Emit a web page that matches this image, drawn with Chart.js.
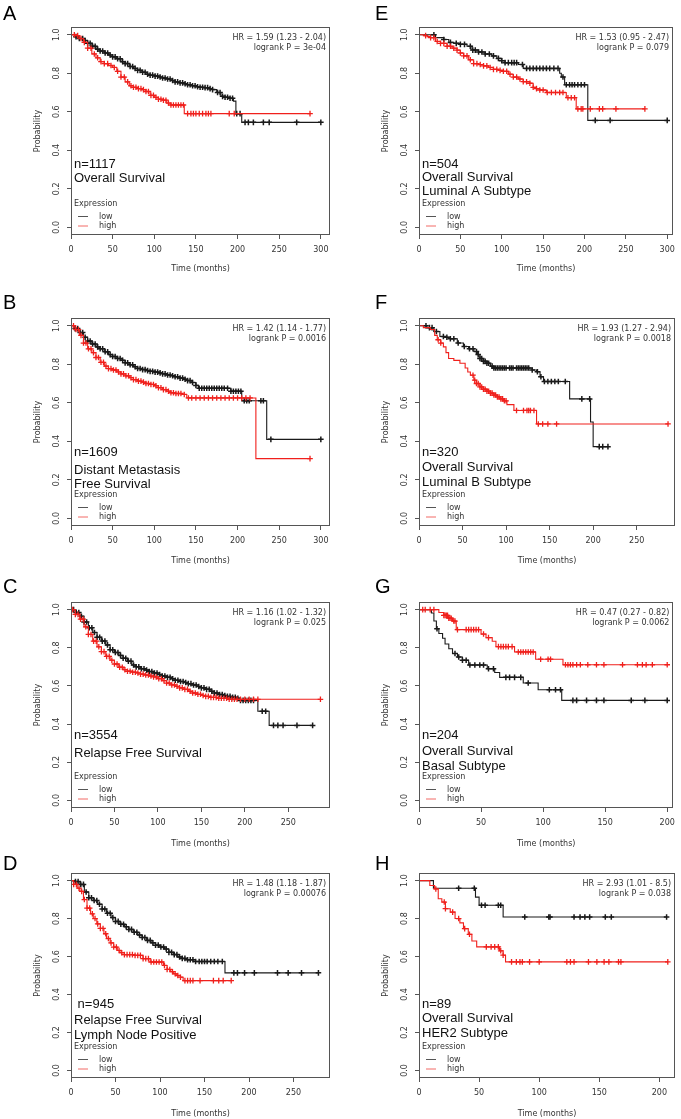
<!DOCTYPE html>
<html>
<head>
<meta charset="utf-8">
<script src="https://cdn.jsdelivr.net/npm/chart.js@4.4.0/dist/chart.umd.min.js"></script>
<style>
  body { margin: 0; background: #fff; }
  #fig { position: relative; width: 681px; height: 1119px; overflow: hidden; }
  #fig canvas { position: absolute; }
</style>
</head>
<body>
<div id="fig"></div>
<script>
// ---- axis ticks ----
const yTicks = [0, 0.2, 0.4, 0.6, 0.8, 1.0];
const yTickLabels = ['0.0', '0.2', '0.4', '0.6', '0.8', '1.0'];
const xTicks300 = [0, 50, 100, 150, 200, 250, 300];
const xTicks250 = [0, 50, 100, 150, 200, 250];
const xTicks200 = [0, 50, 100, 150, 200];

// ---- A: overall survival ----
const aLowT = [0, 5, 10, 15, 20, 25, 30, 35, 40, 45, 50, 55, 60, 65, 70, 75, 80, 85, 90, 95, 100, 105, 110, 115, 120, 125, 130, 135, 140, 145, 150, 155, 160, 165, 170, 175, 180, 185, 190, 195, 198, 205];
const aLowS = [1.0, 0.99, 0.98, 0.97, 0.955, 0.94, 0.925, 0.915, 0.905, 0.895, 0.885, 0.875, 0.86, 0.85, 0.835, 0.825, 0.815, 0.805, 0.795, 0.79, 0.785, 0.78, 0.775, 0.77, 0.762, 0.755, 0.75, 0.745, 0.74, 0.735, 0.73, 0.727, 0.725, 0.72, 0.715, 0.70, 0.68, 0.675, 0.67, 0.655, 0.59, 0.545];
const aLowC = [6, 10, 14, 17, 20, 23, 26, 29, 32, 35, 38, 41, 44, 47, 50, 53, 56, 59, 62, 65, 68, 71, 74, 77, 80, 83, 86, 89, 92, 95, 98, 101, 104, 107, 110, 113, 116, 119, 122, 125, 128, 131, 134, 137, 140, 143, 146, 149, 152, 155, 158, 161, 164, 167, 170, 176, 179, 182, 185, 188, 191, 194, 199, 203, 209, 213, 219, 231, 238, 271, 300];
const aHighT = [0, 5, 10, 15, 20, 25, 30, 35, 40, 45, 50, 55, 60, 65, 70, 75, 80, 85, 90, 95, 100, 105, 110, 115, 120, 136];
const aHighS = [1.0, 0.995, 0.98, 0.96, 0.93, 0.90, 0.88, 0.86, 0.85, 0.84, 0.83, 0.81, 0.78, 0.755, 0.735, 0.727, 0.72, 0.715, 0.705, 0.685, 0.675, 0.665, 0.66, 0.645, 0.635, 0.59];
const aHighC = [4, 8, 12, 16, 20, 24, 28, 32, 36, 40, 44, 48, 52, 56, 60, 64, 68, 72, 75, 78, 81, 84, 87, 90, 93, 96, 99, 102, 105, 108, 111, 114, 117, 120, 123, 126, 129, 132, 135, 140, 144, 147, 150, 154, 158, 162, 165, 168, 190, 196, 287];
const aNotes = ['n=1117', 'Overall Survival'];
const aHR = ['HR = 1.59 (1.23 - 2.04)', 'logrank P = 3e-04'];

// ---- B: distant metastasis free survival ----
const bLowT = [0, 5, 10, 15, 20, 25, 30, 35, 40, 45, 50, 55, 60, 65, 70, 75, 80, 85, 90, 95, 100, 105, 110, 115, 120, 125, 130, 135, 140, 145, 150, 153, 192, 205, 235];
const bLowS = [1.0, 0.985, 0.965, 0.94, 0.92, 0.905, 0.89, 0.88, 0.865, 0.85, 0.84, 0.83, 0.82, 0.807, 0.797, 0.787, 0.778, 0.772, 0.767, 0.763, 0.759, 0.755, 0.75, 0.744, 0.74, 0.735, 0.728, 0.722, 0.715, 0.705, 0.69, 0.675, 0.66, 0.61, 0.41];
const bLowC = [5, 8, 11, 14, 17, 20, 23, 26, 29, 32, 35, 38, 41, 44, 47, 50, 53, 56, 59, 62, 65, 68, 71, 74, 77, 80, 83, 86, 89, 92, 95, 98, 101, 104, 107, 110, 113, 116, 119, 122, 125, 128, 131, 134, 137, 140, 143, 146, 150, 154, 157, 160, 163, 166, 169, 172, 175, 178, 181, 184, 188, 192, 195, 198, 201, 204, 208, 211, 214, 228, 231, 240, 300];
const bHighT = [0, 5, 10, 15, 20, 25, 30, 35, 40, 45, 50, 55, 60, 65, 70, 75, 80, 85, 90, 95, 100, 105, 110, 115, 120, 125, 133, 139, 222];
const bHighS = [1.0, 0.98, 0.95, 0.91, 0.88, 0.86, 0.835, 0.81, 0.79, 0.777, 0.77, 0.76, 0.75, 0.74, 0.73, 0.72, 0.712, 0.707, 0.70, 0.695, 0.688, 0.678, 0.668, 0.66, 0.652, 0.648, 0.643, 0.625, 0.31];
const bHighC = [3, 6, 9, 12, 15, 18, 21, 24, 27, 30, 33, 36, 39, 42, 45, 48, 51, 54, 57, 60, 63, 66, 69, 72, 75, 78, 81, 84, 87, 90, 93, 96, 99, 102, 105, 108, 111, 114, 117, 120, 123, 126, 129, 132, 136, 141, 145, 150, 155, 160, 165, 170, 175, 180, 185, 190, 195, 200, 205, 210, 215, 287];
const bNotes = ['n=1609', 'Distant Metastasis', 'Free Survival'];
const bHR = ['HR = 1.42 (1.14 - 1.77)', 'logrank P = 0.0016'];

// ---- C: relapse free survival ----
const cLowT = [0, 5, 10, 15, 20, 25, 30, 35, 40, 45, 50, 55, 60, 65, 70, 75, 80, 85, 90, 95, 100, 105, 110, 115, 120, 125, 130, 135, 140, 145, 150, 155, 160, 165, 170, 175, 180, 185, 190, 194, 215, 228];
const cLowS = [1.0, 0.985, 0.965, 0.935, 0.905, 0.88, 0.855, 0.835, 0.815, 0.79, 0.775, 0.76, 0.745, 0.73, 0.71, 0.70, 0.69, 0.683, 0.675, 0.668, 0.66, 0.652, 0.645, 0.638, 0.63, 0.623, 0.618, 0.612, 0.605, 0.597, 0.59, 0.582, 0.572, 0.563, 0.555, 0.55, 0.545, 0.54, 0.535, 0.524, 0.467, 0.393];
const cLowC = [3, 6, 9, 12, 15, 18, 21, 24, 27, 30, 33, 36, 39, 42, 45, 48, 51, 54, 57, 60, 63, 66, 69, 72, 75, 78, 81, 84, 87, 90, 93, 96, 99, 102, 105, 108, 111, 114, 117, 120, 123, 126, 129, 132, 135, 138, 141, 144, 147, 150, 153, 156, 159, 162, 165, 168, 171, 174, 177, 180, 183, 186, 189, 192, 195, 198, 201, 204, 207, 210, 220, 224, 233, 238, 244, 260, 278];
const cHighT = [0, 5, 10, 15, 20, 25, 30, 35, 40, 45, 50, 55, 60, 65, 70, 75, 80, 85, 90, 95, 100, 105, 110, 115, 120, 125, 130, 135, 140, 145, 150, 155, 160, 170, 180];
const cHighS = [1.0, 0.975, 0.95, 0.91, 0.87, 0.835, 0.805, 0.78, 0.755, 0.735, 0.715, 0.698, 0.685, 0.677, 0.672, 0.668, 0.662, 0.657, 0.652, 0.647, 0.638, 0.628, 0.615, 0.605, 0.598, 0.59, 0.582, 0.572, 0.563, 0.556, 0.55, 0.545, 0.54, 0.535, 0.53];
const cHighC = [2, 5, 8, 11, 14, 17, 20, 23, 26, 29, 32, 35, 38, 41, 44, 47, 50, 53, 56, 59, 62, 65, 68, 71, 74, 77, 80, 83, 86, 89, 92, 95, 98, 101, 104, 107, 110, 113, 116, 119, 122, 125, 128, 131, 134, 137, 140, 143, 146, 149, 152, 155, 158, 161, 164, 167, 170, 173, 176, 179, 182, 185, 188, 191, 195, 200, 205, 210, 215, 287];
const cNotes = ['n=3554', 'Relapse Free Survival'];
const cHR = ['HR = 1.16 (1.02 - 1.32)', 'logrank P = 0.025'];

// ---- D: relapse free survival, lymph node positive ----
const dLowT = [0, 5, 10, 15, 20, 25, 30, 35, 40, 45, 50, 55, 60, 65, 70, 75, 80, 85, 90, 95, 100, 105, 110, 115, 120, 125, 130, 140, 173];
const dLowS = [1.0, 0.995, 0.98, 0.94, 0.91, 0.895, 0.875, 0.85, 0.828, 0.805, 0.785, 0.77, 0.757, 0.743, 0.728, 0.713, 0.70, 0.685, 0.672, 0.66, 0.65, 0.64, 0.622, 0.61, 0.598, 0.59, 0.583, 0.574, 0.514];
const dLowC = [5, 8, 11, 14, 17, 20, 23, 26, 29, 32, 35, 38, 41, 44, 47, 50, 53, 56, 59, 62, 65, 68, 71, 74, 77, 80, 83, 86, 89, 92, 95, 98, 101, 104, 107, 110, 113, 116, 119, 122, 125, 128, 131, 134, 137, 140, 144, 147, 150, 153, 157, 161, 165, 170, 183, 187, 195, 206, 232, 244, 259, 278];
const dHighT = [0, 3, 7, 10, 14, 18, 22, 25, 29, 33, 37, 40, 44, 48, 52, 55, 60, 70, 81, 89, 104, 108, 112, 115, 119, 123, 126];
const dHighS = [1.0, 0.98, 0.96, 0.943, 0.90, 0.855, 0.825, 0.80, 0.772, 0.748, 0.72, 0.695, 0.672, 0.65, 0.632, 0.62, 0.61, 0.606, 0.589, 0.571, 0.553, 0.532, 0.52, 0.509, 0.50, 0.491, 0.473];
const dHighC = [3, 6, 9, 12, 15, 18, 21, 24, 27, 30, 33, 36, 39, 42, 45, 48, 51, 54, 57, 60, 63, 66, 69, 72, 75, 78, 81, 84, 87, 90, 93, 96, 99, 102, 105, 108, 111, 114, 117, 120, 123, 128, 131, 134, 137, 145, 160, 166, 171, 180];
const dNotes = [' n=945', 'Relapse Free Survival', 'Lymph Node Positive'];
const dHR = ['HR = 1.48 (1.18 - 1.87)', 'logrank P = 0.00076'];

// ---- E: overall survival, luminal A ----
const eLowT = [0, 20, 30, 36, 42, 50, 58, 64, 72, 80, 88, 94, 100, 104, 120, 126, 170, 172, 176, 204];
const eLowS = [1.0, 0.985, 0.975, 0.96, 0.955, 0.95, 0.94, 0.92, 0.91, 0.90, 0.89, 0.877, 0.865, 0.855, 0.845, 0.825, 0.80, 0.78, 0.74, 0.555];
const eLowC = [18, 30, 38, 45, 50, 55, 62, 65, 68, 72, 76, 80, 85, 90, 96, 100, 104, 108, 112, 115, 118, 125, 130, 134, 138, 142, 146, 150, 154, 158, 163, 168, 174, 178, 182, 185, 188, 192, 196, 200, 213, 231, 300];
const eHighT = [0, 6, 10, 14, 20, 26, 34, 40, 46, 50, 54, 60, 66, 72, 78, 84, 90, 96, 102, 108, 114, 120, 126, 134, 138, 142, 146, 154, 178, 190];
const eHighS = [1.0, 0.995, 0.99, 0.985, 0.965, 0.955, 0.94, 0.93, 0.92, 0.905, 0.89, 0.87, 0.85, 0.845, 0.838, 0.83, 0.82, 0.815, 0.81, 0.795, 0.78, 0.77, 0.756, 0.748, 0.727, 0.72, 0.713, 0.70, 0.673, 0.615];
const eHighC = [8, 14, 18, 22, 26, 30, 34, 38, 42, 46, 50, 54, 58, 62, 66, 70, 74, 78, 82, 86, 90, 94, 98, 102, 106, 110, 114, 118, 122, 126, 130, 134, 138, 142, 146, 150, 155, 160, 165, 170, 174, 180, 184, 188, 192, 196, 198, 207, 218, 222, 238, 273];
const eNotes = ['n=504', 'Overall Survival', 'Luminal A Subtype'];
const eHR = ['HR = 1.53 (0.95 - 2.47)', 'logrank P = 0.079'];

// ---- F: overall survival, luminal B ----
const fLowT = [0, 9, 17, 24, 30, 36, 44, 51, 57, 63, 67, 70, 74, 78, 82, 86, 130, 135, 139, 143, 173, 197, 200];
const fLowS = [1.0, 0.99, 0.97, 0.944, 0.94, 0.932, 0.91, 0.892, 0.88, 0.866, 0.85, 0.83, 0.815, 0.805, 0.79, 0.78, 0.77, 0.761, 0.735, 0.71, 0.62, 0.50, 0.372];
const fLowC = [8, 12, 15, 20, 28, 32, 36, 40, 45, 52, 58, 62, 66, 68, 70, 72, 74, 76, 78, 80, 84, 86, 88, 90, 92, 94, 96, 98, 100, 104, 106, 108, 112, 114, 116, 118, 120, 122, 124, 126, 130, 136, 140, 144, 148, 152, 156, 160, 168, 187, 196, 207, 211, 217];
const fHighT = [0, 5, 13, 18, 21, 25, 28, 31, 34, 40, 47, 53, 56, 59, 63, 66, 70, 74, 78, 82, 86, 90, 93, 97, 101, 109, 135];
const fHighS = [1.0, 0.99, 0.98, 0.95, 0.927, 0.91, 0.89, 0.86, 0.83, 0.82, 0.805, 0.78, 0.76, 0.743, 0.717, 0.70, 0.682, 0.67, 0.66, 0.65, 0.64, 0.63, 0.62, 0.61, 0.59, 0.56, 0.49];
const fHighC = [22, 25, 62, 64, 66, 68, 70, 72, 74, 76, 78, 80, 82, 84, 86, 88, 90, 92, 94, 96, 98, 100, 112, 120, 124, 126, 128, 132, 137, 142, 148, 158, 286];
const fNotes = ['n=320', 'Overall Survival', 'Luminal B Subtype'];
const fHR = ['HR = 1.93 (1.27 - 2.94)', 'logrank P = 0.0018'];

// ---- G: overall survival, basal ----
const gLowT = [0, 10, 12, 14, 16, 19, 21, 24, 27, 31, 35, 40, 55, 61, 65, 84, 96, 115];
const gLowS = [1.0, 0.982, 0.94, 0.90, 0.875, 0.85, 0.82, 0.795, 0.77, 0.752, 0.735, 0.71, 0.69, 0.67, 0.645, 0.615, 0.58, 0.524];
const gLowC = [14.5, 29, 32, 35, 38, 41, 45, 49, 52, 56, 60, 70, 73, 77, 82, 88, 105, 110, 114, 124, 127, 135, 143, 149, 171, 182, 200];
const gHighT = [0, 16, 20, 24, 27, 30, 50, 54, 59, 62, 77, 94, 116];
const gHighS = [1.0, 0.985, 0.97, 0.955, 0.94, 0.895, 0.872, 0.853, 0.834, 0.806, 0.778, 0.74, 0.711];
const gHighC = [3, 5, 9, 12, 20, 21, 22, 23, 24, 25, 26, 28, 29, 31, 38, 40, 42, 44, 46, 48, 52, 56, 64, 66, 68, 70, 72, 75, 80, 82, 84, 86, 88, 90, 92, 98, 104, 106, 118, 120, 122, 124, 127, 130, 136, 143, 149, 164, 176, 180, 183, 188, 200];
const gNotes = ['n=204', 'Overall Survival', 'Basal Subtype'];
const gHR = ['HR = 0.47 (0.27 - 0.82)', 'logrank P = 0.0062'];

// ---- H: overall survival, HER2 ----
const hLowT = [0, 12, 47, 50, 70];
const hLowS = [1.0, 0.96, 0.913, 0.87, 0.808];
const hLowC = [33, 46, 52, 55, 66, 68, 88, 108, 109, 129, 134, 138, 142, 155, 160, 206];
const hHighT = [0, 9, 13, 16, 19, 22, 26, 30, 34, 37, 41, 44, 48, 67, 70, 72];
const hHighS = [1.0, 0.974, 0.956, 0.904, 0.887, 0.852, 0.834, 0.80, 0.777, 0.747, 0.717, 0.682, 0.651, 0.63, 0.607, 0.572];
const hHighC = [14, 21, 22, 28, 33, 38, 42, 56, 60, 63, 66, 68, 70, 77, 81, 84, 86, 92, 100, 123, 126, 129, 141, 148, 154, 158, 166, 168, 207];
const hNotes = ['n=89', 'Overall Survival', 'HER2 Subtype'];
const hHR = ['HR = 2.93 (1.01 - 8.5)', 'logrank P = 0.038'];

// ---- layout (page pixels) ----
const ROWS = [
  { oy: 0,   h: 300, top: 27,  bottom: 235,  titleDy: 33.5, letterY: 20 },
  { oy: 280, h: 300, top: 318, bottom: 526,  titleDy: 35,   letterY: 309 },
  { oy: 560, h: 300, top: 602, bottom: 808,  titleDy: 36,   letterY: 593 },
  { oy: 840, h: 279, top: 873, bottom: 1078, titleDy: 35.5, letterY: 870 }
];
const COLS = [
  { ox: 0,   w: 340, left: 71,  right: 330, letterX: 3 },
  { ox: 340, w: 341, left: 419, right: 675, letterX: 375 }
];
const YW = 20, XH = 20;

const panels = [
  { label: 'A', row: 0, col: 0, xMax: 311, xTicks: xTicks300, low: [aLowT, aLowS, aLowC], high: [aHighT, aHighS, aHighC], notes: aNotes, noteY: [168, 182], hr: aHR },
  { label: 'E', row: 0, col: 1, xMax: 307, xTicks: xTicks300, low: [eLowT, eLowS, eLowC], high: [eHighT, eHighS, eHighC], notes: eNotes, noteY: [168, 181, 195], hr: eHR },
  { label: 'B', row: 1, col: 0, xMax: 311, xTicks: xTicks300, low: [bLowT, bLowS, bLowC], high: [bHighT, bHighS, bHighC], notes: bNotes, noteY: [456, 474, 488], hr: bHR },
  { label: 'F', row: 1, col: 1, xMax: 294, xTicks: xTicks250, low: [fLowT, fLowS, fLowC], high: [fHighT, fHighS, fHighC], notes: fNotes, noteY: [456, 471, 486], hr: fHR },
  { label: 'C', row: 2, col: 0, xMax: 298, xTicks: xTicks250, low: [cLowT, cLowS, cLowC], high: [cHighT, cHighS, cHighC], notes: cNotes, noteY: [739, 757], hr: cHR },
  { label: 'G', row: 2, col: 1, xMax: 205, xTicks: xTicks200, low: [gLowT, gLowS, gLowC], high: [gHighT, gHighS, gHighC], notes: gNotes, noteY: [739, 755, 770], hr: gHR },
  { label: 'D', row: 3, col: 0, xMax: 291, xTicks: xTicks250, low: [dLowT, dLowS, dLowC], high: [dHighT, dHighS, dHighC], notes: dNotes, noteY: [1008, 1024, 1039], hr: dHR },
  { label: 'H', row: 3, col: 1, xMax: 213, xTicks: xTicks200, low: [hLowT, hLowS, hLowC], high: [hHighT, hHighS, hHighC], notes: hNotes, noteY: [1008, 1022, 1037], hr: hHR }
];

const LOW_COLOR = '#1a1a1a';
const HIGH_COLOR = '#f0201c';
const SMALL = '8px "DejaVu Sans"';
const BIG = '13px "Liberation Sans"';

// survival value at time t from a step curve
function survAt(ts, ss, t) {
  let v = ss[0];
  for (let i = 0; i < ts.length; i++) if (ts[i] <= t) v = ss[i];
  return v;
}
function curvePoints(ts, ss, cens) {
  const pts = ts.map((t, i) => ({ x: t, y: ss[i] }));
  const end = Math.max(...cens);
  if (end > ts[ts.length - 1]) pts.push({ x: end, y: ss[ss.length - 1] });
  return pts;
}
function censorPoints(ts, ss, cens) {
  return cens.map(c => ({ x: c, y: survAt(ts, ss, c) }));
}

function annotations(p, r, c) {
  return {
    id: 'km' + p.label,
    afterDraw(chart) {
      const ctx = chart.ctx, a = chart.chartArea, ys = chart.scales.y;
      ctx.save();
      // frame
      ctx.strokeStyle = '#555';
      ctx.lineWidth = 1;
      ctx.strokeRect(Math.round(a.left) + 0.5, Math.round(a.top) + 0.5,
                     Math.round(a.right - a.left) - 1, Math.round(a.bottom - a.top) - 1);
      // rotated y tick labels
      ctx.fillStyle = '#333';
      ctx.font = SMALL;
      ctx.textAlign = 'center';
      ctx.textBaseline = 'middle';
      yTicks.forEach((v, i) => {
        ctx.save();
        ctx.translate(a.left - 14, ys.getPixelForValue(v));
        ctx.rotate(-Math.PI / 2);
        ctx.fillText(yTickLabels[i], 0, 0);
        ctx.restore();
      });
      // axis titles
      ctx.save();
      ctx.translate(a.left - 33, (a.top + a.bottom) / 2);
      ctx.rotate(-Math.PI / 2);
      ctx.fillText('Probability', 0, 0);
      ctx.restore();
      ctx.fillText('Time (months)', (a.left + a.right) / 2, a.bottom + r.titleDy);
      // hazard ratio
      ctx.textAlign = 'right';
      ctx.fillText(p.hr[0], a.right - 4, a.top + 11);
      ctx.fillText(p.hr[1], a.right - 4, a.top + 21);
      // legend
      ctx.textAlign = 'left';
      ctx.fillText('Expression', a.left + 3, a.bottom - 31);
      ctx.fillText('low', a.left + 28, a.bottom - 18.5);
      ctx.fillText('high', a.left + 28, a.bottom - 9);
      ctx.lineWidth = 1;
      ctx.strokeStyle = '#555';
      ctx.beginPath(); ctx.moveTo(a.left + 7, a.bottom - 18.5); ctx.lineTo(a.left + 17, a.bottom - 18.5); ctx.stroke();
      ctx.strokeStyle = '#f26a66';
      ctx.beginPath(); ctx.moveTo(a.left + 7, a.bottom - 9); ctx.lineTo(a.left + 17, a.bottom - 9); ctx.stroke();
      // cohort notes
      ctx.fillStyle = '#111';
      ctx.font = BIG;
      ctx.textBaseline = 'alphabetic';
      p.notes.forEach((t, i) => ctx.fillText(t, a.left + 3, p.noteY[i] - r.oy));
      // panel letter
      ctx.font = '20px "Liberation Sans"';
      ctx.fillStyle = '#000';
      ctx.fillText(p.label, c.letterX - c.ox, r.letterY - r.oy);
      ctx.restore();
    }
  };
}

const fig = document.getElementById('fig');
panels.forEach(p => {
  const r = ROWS[p.row], c = COLS[p.col];
  const cv = document.createElement('canvas');
  cv.width = c.w;
  cv.height = r.h;
  cv.style.left = c.ox + 'px';
  cv.style.top = r.oy + 'px';
  fig.appendChild(cv);

  const [lt, ls, lc] = p.low;
  const [ht, hs, hc] = p.high;
  const grid = { display: true, drawOnChartArea: false, drawTicks: true, tickLength: 4, color: '#555', lineWidth: 1 };

  new Chart(cv, {
    type: 'line',
    data: {
      datasets: [
        { data: curvePoints(ht, hs, hc), borderColor: HIGH_COLOR, borderWidth: 1.1, pointRadius: 0, stepped: true, fill: false },
        { data: censorPoints(ht, hs, hc), showLine: false, pointStyle: 'cross', pointRadius: 2.8, pointBorderWidth: 1.3, pointBorderColor: HIGH_COLOR, borderColor: HIGH_COLOR },
        { data: curvePoints(lt, ls, lc), borderColor: LOW_COLOR, borderWidth: 1.1, pointRadius: 0, stepped: true, fill: false },
        { data: censorPoints(lt, ls, lc), showLine: false, pointStyle: 'cross', pointRadius: 2.8, pointBorderWidth: 1.5, pointBorderColor: LOW_COLOR, borderColor: LOW_COLOR }
      ]
    },
    options: {
      responsive: false,
      animation: false,
      events: [],
      layout: {
        padding: {
          left: c.left - c.ox - YW,
          right: c.ox + c.w - c.right,
          top: r.top - r.oy,
          bottom: r.oy + r.h - r.bottom - XH
        }
      },
      plugins: { legend: { display: false }, tooltip: { enabled: false } },
      scales: {
        x: {
          type: 'linear', min: 0, max: p.xMax,
          afterBuildTicks: s => { s.ticks = p.xTicks.map(v => ({ value: v })); },
          afterFit: s => { s.height = XH; },
          grid: grid,
          border: { display: false },
          ticks: { font: { family: 'DejaVu Sans', size: 8 }, color: '#333', padding: 6, maxRotation: 0, autoSkip: false }
        },
        y: {
          type: 'linear', min: -0.04, max: 1.04,
          afterBuildTicks: s => { s.ticks = yTicks.map(v => ({ value: v })); },
          afterFit: s => { s.width = YW; },
          grid: grid,
          border: { display: false },
          ticks: { display: false }
        }
      }
    },
    plugins: [annotations(p, r, c)]
  });
});
</script>
</body>
</html>
